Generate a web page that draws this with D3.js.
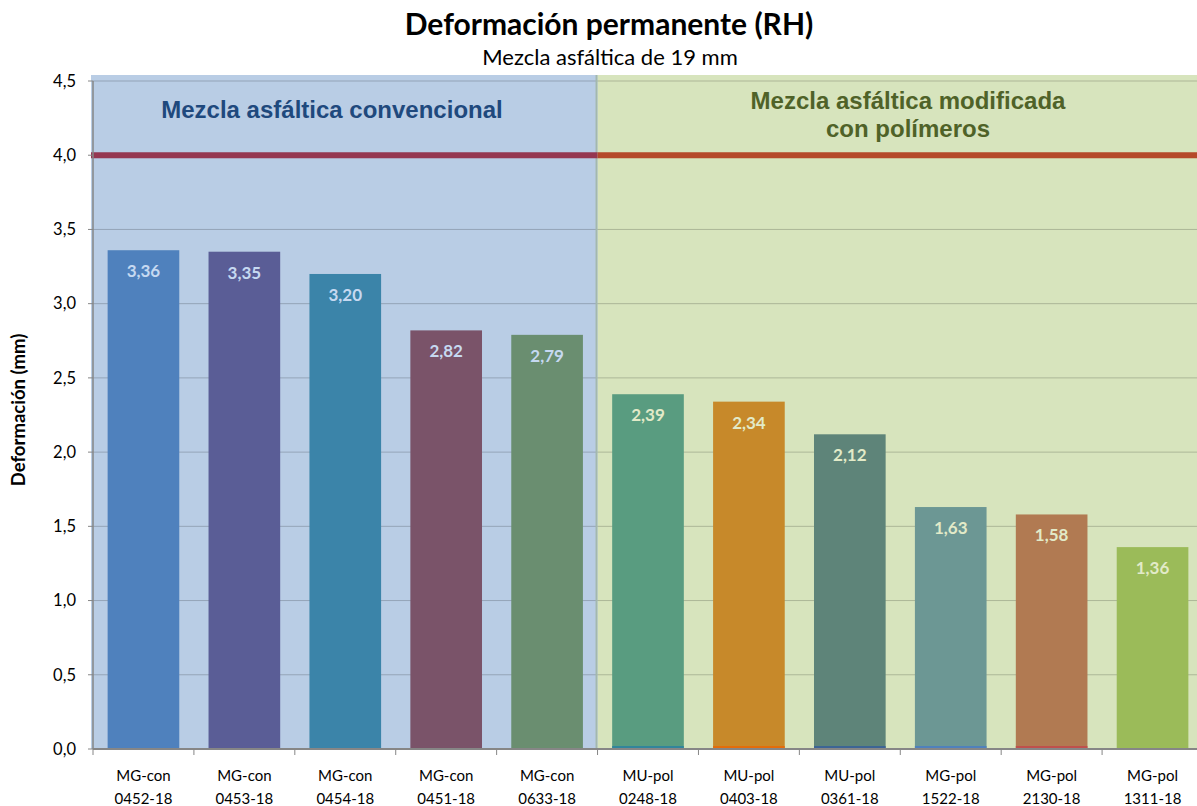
<!DOCTYPE html>
<html>
<head>
<meta charset="utf-8">
<script src="https://cdn.jsdelivr.net/npm/d3@7"></script>
<style>
  body { margin: 0; background: #fff; }
  svg { display: block; }
</style>
</head>
<body>
<script>
const muestras = ["MG-con 0452-18", "MG-con 0453-18", "MG-con 0454-18", "MG-con 0451-18", "MG-con 0633-18",
                  "MU-pol 0248-18", "MU-pol 0403-18", "MU-pol 0361-18", "MG-pol 1522-18", "MG-pol 2130-18", "MG-pol 1311-18"]
const deformacion = [3.36, 3.35, 3.20, 2.82, 2.79, 2.39, 2.34, 2.12, 1.63, 1.58, 1.36]
const colores = ["#4F81BD", "#5A5D96", "#3B84A9", "#7A5369", "#6A8E70", "#599C80", "#C7892A", "#5E8479", "#6C9794", "#B17A52", "#9BBB59"]
const baseValores = [0, 0, 0, 0, 0, 0.02, 0.02, 0.02, 0.02, 0.02, 0]
const baseColores = ["#4F81BD", "#5A5D96", "#3B84A9", "#7A5369", "#6A8E70", "#31859C", "#E46C0A", "#3C6496", "#4F81BD", "#C0504D", "#9BBB59"]
const yTicks = [0, 0.5, 1, 1.5, 2, 2.5, 3, 3.5, 4, 4.5]
const limite = 4.0

const grupos = ["Mezcla asfáltica convencional", "Mezcla asfáltica modificada|con polímeros"]
const grupoDesde = [0, 5]
const grupoHasta = [4, 10]
const grupoCentro = [332, 908]
const grupoFondo = ["#B9CDE5", "#D7E4BD"]
const grupoTexto = ["#1F497D", "#4F6228"]
const grupoLimite = ["#953751", "#B5492A"]
const grupoEtiqueta = ["#C6D9F1", "#E2EAC8"]

const W = 1197, H = 806
const font = "Lato, 'Open Sans', sans-serif"

let svg = d3.select("body")
            .append("svg")
            .attr("width", W)
            .attr("height", H)
            .style("font-family", font)

const x = d3.scaleBand()
            .domain(muestras)
            .range([93, 1203])
            .paddingInner(0.29)
            .paddingOuter(0.145)

const y = d3.scaleLinear()
            .domain([0, 4.5])
            .range([749, 81])

const step = x.step()
const bandLeft = i => x.range()[0] + i * step
const coma = v => d3.format(".1f")(v).replace(".", ",")

// group backgrounds
grupos.forEach((g, i) => {
  const x0 = i === 0 ? 91 : bandLeft(grupoDesde[i])
  const x1 = Math.min(bandLeft(grupoHasta[i] + 1), W)
  svg.append("rect")
     .attr("x", x0)
     .attr("y", y(4.5) - 6)
     .attr("width", x1 - x0)
     .attr("height", y(0) - y(4.5) + 6)
     .attr("fill", grupoFondo[i])
})

// gridlines
svg.append("g")
   .selectAll("line")
   .data(yTicks.slice(1))
   .join("line")
     .attr("x1", 93).attr("x2", W)
     .attr("y1", d => y(d)).attr("y2", d => y(d))
     .attr("stroke", "#000")
     .attr("stroke-opacity", 0.2)
     .attr("stroke-width", 1)

// divider between groups
svg.append("line")
   .attr("x1", bandLeft(5) - 1).attr("x2", bandLeft(5) - 1)
   .attr("y1", y(4.5) - 6).attr("y2", y(0))
   .attr("stroke", "#A3B8AD")
   .attr("stroke-width", 2)

// bars
svg.append("g")
   .selectAll("rect")
   .data(deformacion)
   .join("rect")
     .attr("x", (d, i) => x(muestras[i]))
     .attr("y", d => y(d))
     .attr("width", x.bandwidth())
     .attr("height", d => y(0) - y(d))
     .attr("fill", (d, i) => colores[i])

// tiny base series
svg.append("g")
   .selectAll("rect")
   .data(baseValores)
   .join("rect")
     .attr("x", (d, i) => x(muestras[i]))
     .attr("y", d => y(d))
     .attr("width", x.bandwidth())
     .attr("height", d => y(0) - y(d))
     .attr("fill", (d, i) => baseColores[i])

// limit line
grupos.forEach((g, i) => {
  const x0 = i === 0 ? 91 : bandLeft(grupoDesde[i])
  const x1 = Math.min(bandLeft(grupoHasta[i] + 1), W)
  svg.append("line")
     .attr("x1", x0).attr("x2", x1)
     .attr("y1", y(limite)).attr("y2", y(limite))
     .attr("stroke", grupoLimite[i])
     .attr("stroke-width", 6)
})

// value labels
svg.append("g")
   .selectAll("text")
   .data(deformacion)
   .join("text")
     .attr("x", (d, i) => x(muestras[i]) + x.bandwidth() / 2)
     .attr("y", d => y(d) + 27)
     .attr("text-anchor", "middle")
     .attr("font-size", 17)
     .attr("font-weight", "bold")
     .attr("fill", (d, i) => grupoEtiqueta[i < 5 ? 0 : 1])
     .text(d => d3.format(".2f")(d).replace(".", ","))

// group titles
grupos.forEach((g, i) => {
  const lines = g.split("|")
  const t = svg.append("text")
     .attr("text-anchor", "middle")
     .attr("font-family", "'Liberation Sans', Arial, sans-serif")
     .attr("font-size", 24)
     .attr("font-weight", "bold")
     .attr("fill", grupoTexto[i])
  lines.forEach((l, k) => {
    t.append("tspan")
     .attr("x", grupoCentro[i])
     .attr("y", (lines.length === 1 ? 118 : 109) + k * 28)
     .text(l)
  })
})

// axes
const axisColor = "#868686"
svg.append("line")
   .attr("x1", 93).attr("x2", 93)
   .attr("y1", y(4.5)).attr("y2", y(0))
   .attr("stroke", axisColor).attr("stroke-width", 1.5)

const yAxis = svg.append("g")
yAxis.selectAll("line")
     .data(yTicks)
     .join("line")
       .attr("x1", 88).attr("x2", 93)
       .attr("y1", d => y(d)).attr("y2", d => y(d))
       .attr("stroke", axisColor)
yAxis.selectAll("text")
     .data(yTicks)
     .join("text")
       .attr("x", 76)
       .attr("y", d => y(d))
       .attr("dy", "0.35em")
       .attr("text-anchor", "end")
       .attr("font-size", 16.5)
       .attr("fill", "#000")
       .text(coma)

svg.append("line")
   .attr("x1", 93).attr("x2", W)
   .attr("y1", y(0)).attr("y2", y(0))
   .attr("stroke", axisColor).attr("stroke-width", 2)

svg.append("g")
   .selectAll("line")
   .data(d3.range(muestras.length + 1))
   .join("line")
     .attr("x1", i => bandLeft(i)).attr("x2", i => bandLeft(i))
     .attr("y1", y(0)).attr("y2", y(0) + 6)
     .attr("stroke", axisColor)

const xLabels = svg.append("g")
                   .selectAll("text")
                   .data(muestras)
                   .join("text")
                     .attr("text-anchor", "middle")
                     .attr("font-size", 15)
                     .attr("fill", "#000")
xLabels.each(function (d) {
  const parts = d.split(" ")
  const cx = x(d) + x.bandwidth() / 2
  parts.forEach((p, k) => {
    d3.select(this).append("tspan")
      .attr("x", cx)
      .attr("y", 781 + k * 23)
      .text(p)
  })
})

// titles
svg.append("text")
   .attr("x", 609).attr("y", 35)
   .attr("text-anchor", "middle")
   .attr("font-size", 30)
   .attr("font-weight", "bold")
   .text("Deformación permanente (RH)")

svg.append("text")
   .attr("x", 610).attr("y", 65)
   .attr("text-anchor", "middle")
   .attr("font-size", 22)
   .text("Mezcla asfáltica de 19 mm")

svg.append("text")
   .attr("transform", "translate(25,410) rotate(-90)")
   .attr("text-anchor", "middle")
   .attr("font-size", 18.5)
   .attr("font-weight", "bold")
   .text("Deformación (mm)")
</script>
</body>
</html>
